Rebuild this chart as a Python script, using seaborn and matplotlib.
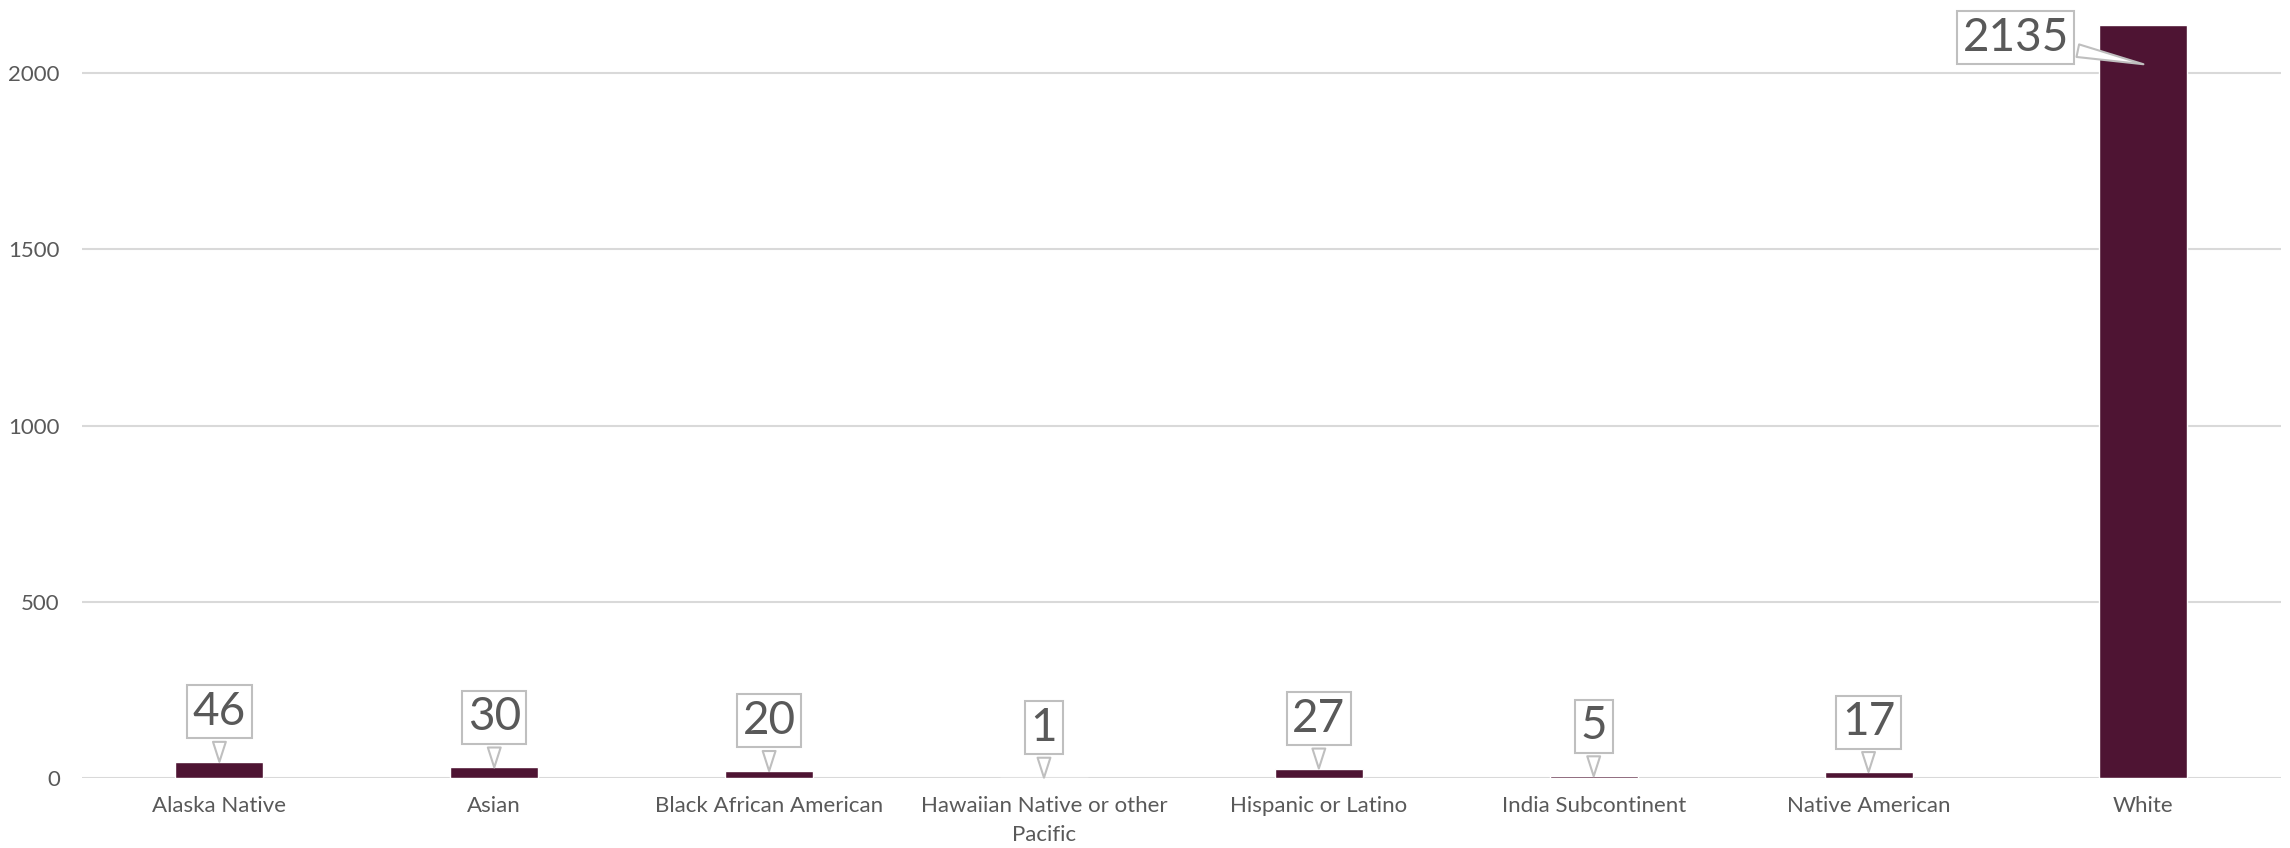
import matplotlib
matplotlib.use("Agg")
import matplotlib.pyplot as plt
import seaborn as sns
import pandas as pd

categories = ["Alaska Native", "Asian", "Black African American",
              "Hawaiian Native or other\nPacific", "Hispanic or Latino",
              "India Subcontinent", "Native American", "White"]
counts = [46, 30, 20, 1, 27, 5, 17, 2135]
y_ticks = [0, 500, 1000, 1500, 2000]

sns.set_style("white")
plt.rcParams['font.family'] = ['Lato', 'DejaVu Sans']

BAR = "#4e1433"
TXT = "#595959"
GRID = "#d9d9d9"

df = pd.DataFrame({"category": categories, "count": counts})

fig = plt.figure(figsize=(22.9, 8.48), dpi=100)
ax = fig.add_axes([0.0358, 0.0825, 0.9602, 0.9145])
sns.barplot(data=df, x="category", y="count", color=BAR, width=0.32,
            saturation=1, ax=ax, zorder=3)

ax.set_ylim(0, 2200)
ax.set_xlim(-0.5, len(categories) - 0.5)
ax.set_yticks(y_ticks)
ax.set_yticklabels([str(t) for t in y_ticks])
ax.yaxis.grid(True, color=GRID, lw=1.5, zorder=0)
ax.set_axisbelow(True)
for s in ax.spines.values():
    s.set_visible(False)
ax.tick_params(axis='both', length=0, labelsize=16, colors=TXT)
ax.tick_params(axis='y', pad=16)
ax.tick_params(axis='x', pad=13)
for lbl in ax.get_xticklabels():
    lbl.set_linespacing(1.55)
ax.set_xlabel("")
ax.set_ylabel("")

vmax = max(counts)
for i, v in enumerate(counts):
    if v == vmax:
        xy = (i, v - 110)
        xytext = (-92, 19)
    else:
        xy = (i, v)
        xytext = (0, 36)
    ax.annotate(str(v), xy=xy, xytext=xytext, textcoords="offset points",
                ha="center", va="center", fontsize=33, color=TXT,
                bbox=dict(boxstyle="square,pad=0.12", fc="white", ec="#bfbfbf", lw=1.5),
                arrowprops=dict(arrowstyle="wedge,tail_width=0.28,shrink_factor=0.5",
                                fc="white", ec="#bfbfbf", lw=1.5, shrinkB=0),
                zorder=5, annotation_clip=False)

fig.savefig("out.png", dpi=100)
